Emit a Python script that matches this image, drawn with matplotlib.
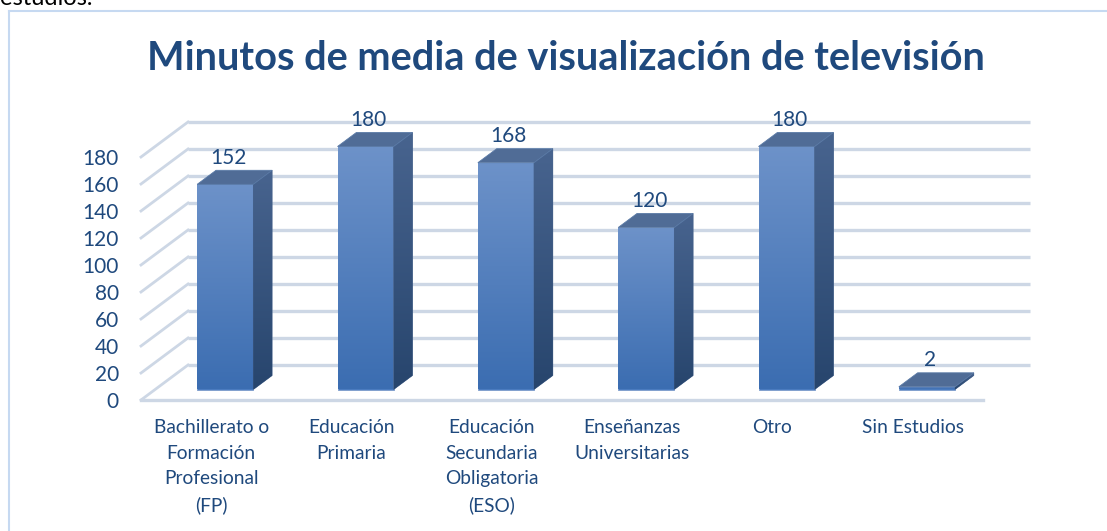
import numpy as np
import matplotlib.pyplot as plt
from matplotlib.patches import Polygon
from matplotlib.colors import LinearSegmentedColormap
from matplotlib.lines import Line2D

# datos
categorias = ["Bachillerato o\nFormación\nProfesional\n(FP)", "Educación\nPrimaria",
              "Educación\nSecundaria\nObligatoria\n(ESO)", "Enseñanzas\nUniversitarias",
              "Otro", "Sin Estudios"]
minutos = [152, 180, 168, 120, 180, 2]
ticks = list(range(0, 181, 20))
titulo = "Minutos de media de visualización de televisión"

plt.rcParams['font.family'] = ['Lato', 'DejaVu Sans']
azul_texto = '#1f497d'
gris_rejilla = '#cdd7e5'

W, H = 1107, 531
fig = plt.figure(figsize=(W / 100, H / 100), dpi=100)

# geometria en pixeles del grafico 3D falso
x0, x1 = 141, 1040
y0 = 400
px_cat = 140.33
px_val = 1.35
ymax = 215
xmax = (x1 - x0) / px_cat
ax = fig.add_axes([x0 / W, (H - y0) / H, (x1 - x0) / W, ymax * px_val / H])

# vector de profundidad (en unidades de datos)
DX = 47 / px_cat
DY = 35 / px_val

n = len(categorias)

# rejilla: pared del fondo, pared lateral y suelo
for v in ticks:
    ax.plot([DX, n + DX], [v + DY, v + DY], color=gris_rejilla, lw=2.4,
            solid_capstyle='butt', zorder=1, clip_on=False)
    ax.plot([0, DX], [v, v + DY], color=gris_rejilla, lw=2.0, zorder=1, clip_on=False)
ax.plot([0, n], [0, 0], color=gris_rejilla, lw=2.4, zorder=1, clip_on=False)


def degradado(patch, c_arriba, c_abajo, extent, z):
    grad = np.linspace(0, 1, 256).reshape(-1, 1)
    cmap = LinearSegmentedColormap.from_list('g', [c_abajo, c_arriba])
    im = ax.imshow(grad, extent=extent, origin='lower', cmap=cmap,
                   aspect='auto', zorder=z, interpolation='bilinear')
    im.set_clip_path(patch)


ancho = 0.4
d0, d1 = 0.3, 0.7
base = d0 * DY
lefts = [i + 0.5 - ancho / 2 + d0 * DX for i in range(n)]
barras = ax.bar(lefts, minutos, width=ancho, bottom=base, align='edge',
                color='#4a7bbf', edgecolor='#7d9ccc', linewidth=0.6, zorder=3)

prof_x = (d1 - d0) * DX
prof_y = (d1 - d0) * DY
for rect, l, v in zip(barras, lefts, minutos):
    r = l + ancho
    degradado(rect, '#6d92c9', '#3b6db1', (l, r, base, base + v), 3)
    lado = Polygon([(r, base), (r + prof_x, base + prof_y), (r + prof_x, base + v + prof_y),
                    (r, base + v)], closed=True, facecolor='#30507f', edgecolor='#4b678f',
                   linewidth=0.5, zorder=4)
    ax.add_patch(lado)
    degradado(lado, '#48648f', '#27456d', (r, r + prof_x, base, base + v + prof_y), 4)
    tapa = Polygon([(l, base + v), (r, base + v), (r + prof_x, base + v + prof_y),
                    (l + prof_x, base + v + prof_y)], closed=True, facecolor='#506c96',
                   edgecolor='#5a7aa6', linewidth=0.6, zorder=5)
    ax.add_patch(tapa)
    ax.text(l + ancho / 2 + 0.02, base + v + prof_y + 2, str(v), ha='center', va='bottom',
            fontsize=15, color=azul_texto, zorder=6)

ax.set_xlim(0, xmax)
ax.set_ylim(0, ymax)
ax.set_yticks(ticks)
ax.set_yticklabels([str(t) for t in ticks], fontsize=15, color=azul_texto)
ax.set_xticks([i + 0.5 for i in range(n)])
ax.set_xticklabels(categorias, fontsize=13.8, color=azul_texto, linespacing=1.6)
ax.tick_params(axis='y', length=0, pad=16)
ax.tick_params(axis='x', length=0, pad=14)
for s in ax.spines.values():
    s.set_visible(False)

fig.text(566 / W, 1 - 58 / H, titulo, ha='center', va='center', fontsize=28.6,
         fontweight='bold', color=azul_texto)

# texto del documento cortado arriba
fig.text(0.0, 1 - 5 / H, "estudios.", ha='left', va='baseline', fontsize=17, color='black')

# marco del grafico
fig.add_artist(Line2D([8.5 / W, 8.5 / W], [0, 1 - 10.5 / H], color='#c6d9f1', lw=1.5))
fig.add_artist(Line2D([8.5 / W, 1], [1 - 10.5 / H, 1 - 10.5 / H], color='#c6d9f1', lw=1.5))

fig.savefig('out.png', dpi=100)
